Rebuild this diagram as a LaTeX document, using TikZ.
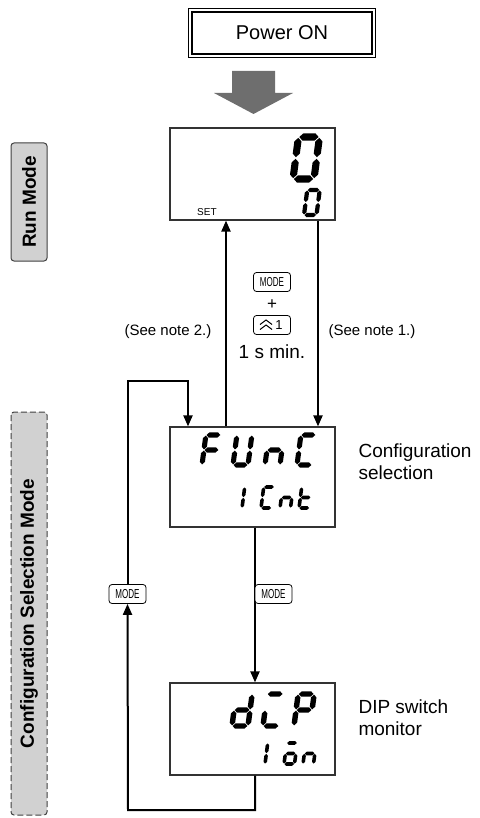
\documentclass[tikz,border=0pt]{standalone}
\usepackage{fontspec}
\setmainfont{Liberation Sans}
\usetikzlibrary{arrows.meta,positioning}

% seven segment cells, drawn in a unit cell 0.5 wide and 1 high
\newcommand{\sgh}{0.085}
\newcommand{\sgg}{0.02}
\newcommand{\hseg}[3]{\fill ({#1+\sgg},#3) -- ({#1+\sgg+\sgh},{#3+\sgh}) -- ({#2-\sgg-\sgh},{#3+\sgh}) -- ({#2-\sgg},#3) -- ({#2-\sgg-\sgh},{#3-\sgh}) -- ({#1+\sgg+\sgh},{#3-\sgh}) -- cycle;}
\newcommand{\vseg}[3]{\fill (#1,{#2+\sgg}) -- ({#1+\sgh},{#2+\sgg+\sgh}) -- ({#1+\sgh},{#3-\sgg-\sgh}) -- (#1,{#3-\sgg}) -- ({#1-\sgh},{#3-\sgg-\sgh}) -- ({#1-\sgh},{#2+\sgg+\sgh}) -- cycle;}
\newcommand{\lcdsega}{\hseg{0}{0.5}{1}}
\newcommand{\lcdsegb}{\vseg{0.5}{0.5}{1}}
\newcommand{\lcdsegc}{\vseg{0.5}{0}{0.5}}
\newcommand{\lcdsegd}{\hseg{0}{0.5}{0}}
\newcommand{\lcdsege}{\vseg{0}{0}{0.5}}
\newcommand{\lcdsegf}{\vseg{0}{0.5}{1}}
\newcommand{\lcdsegg}{\hseg{0}{0.5}{0.5}}
% #1,#2 lower left (px), #3 height, #4 lit segments
\newcommand{\lcdchar}[4]{%
 \begin{scope}[shift={(#1,#2)},xslant=0.13,yscale=-1,scale=#3]
 \foreach \s in {#4} {\csname lcdseg\s\endcsname}
 \end{scope}}
\newcommand{\modekey}{\scalebox{0.62}[1]{MODE}}

\tikzset{
 lcd/.style={draw=black!80, line width=1.2pt, fill=white, minimum width=165pt, inner sep=0pt},
 flow/.style={line width=2pt, -{Triangle[length=11pt,width=9pt]}},
 keybox/.style={draw, rounded corners=3pt, line width=0.8pt, minimum width=37pt, minimum height=19pt, inner sep=0pt, fill=white, font=\fontsize{13}{13}\selectfont},
 modetag/.style={draw=black!75, rounded corners=3pt, line width=1pt, fill=black!18, minimum height=36pt, inner sep=0pt, rotate=90, font=\fontsize{19}{22}\selectfont\bfseries},
 note/.style={font=\fontsize{15}{17}\selectfont},
 lbl/.style={font=\fontsize{19}{22}\selectfont, align=left, anchor=west},
}

\begin{document}
\begin{tikzpicture}[x=1pt,y=-1pt]
\useasboundingbox (0,0) rectangle (479,818);

%%%%% top: power on
\node[draw, line width=1.3pt, minimum width=180pt, minimum height=42pt, font=\fontsize{20}{24}\selectfont] (power) at (282,33) {Power ON};
\draw[line width=0.8pt] ([shift={(-3pt,-3pt)}]power.south west) rectangle ([shift={(3pt,3pt)}]power.north east);
\fill[black!57] (232,71) -- (275,71) -- (275,93) -- (293,93) -- (253.5,114) -- (214,93) -- (232,93) -- cycle;

%%%%% mode tags on the left
\node[modetag, minimum width=118pt] (runtag) at (29,202) {Run Mode};
\node[modetag, dash pattern=on 6pt off 3pt, minimum width=403pt] (cfgtag) at (29,613.5) {Configuration Selection Mode};

%%%%% displays
\node[lcd, minimum height=92pt] (run) at (252.5,174) {};
\node[lcd, minimum height=100pt] (cfg) at (252.5,477) {};
\node[lcd, minimum height=92pt] (dip) at (252.5,729) {};

\node[font=\fontsize{10}{10}\selectfont, anchor=south west, inner sep=0pt] (set) at (197,216) {SET};
\lcdchar{293}{179}{42}{a,b,c,d,e,f}
\lcdchar{304}{215}{25}{a,b,c,d,e,f}

\lcdchar{202}{465}{30}{a,e,f,g}
\lcdchar{233}{465}{30}{b,c,d,e,f}
\lcdchar{265}{465}{30}{c,e,g}
\lcdchar{297}{465}{30}{a,d,e,f}
\lcdchar{242}{508}{21}{e,f}
\lcdchar{261}{508}{21}{a,d,e,f}
\lcdchar{280}{508}{21}{c,e,g}
\lcdchar{299}{508}{21}{d,e,f,g}

\lcdchar{232}{726}{32}{b,c,d,e,g}
\lcdchar{263}{726}{32}{a,d,e}
\lcdchar{294}{726}{32}{a,b,e,f,g}
\lcdchar{265}{764}{21}{e,f}
\lcdchar{284}{764}{21}{a,c,d,e,g}
\lcdchar{303}{764}{21}{c,e,g}

\node[lbl] (cfglbl) at (355,462) {Configuration\\selection};
\node[lbl] (diplbl) at (355,718) {DIP switch\\monitor};

%%%%% run <-> configuration
\draw[flow] ([xshift=-26.5pt]cfg.north) -- ([xshift=-26.5pt]run.south);
\draw[flow] ([xshift=65.5pt]run.south) -- ([xshift=65.5pt]cfg.north);
\node[keybox] (modea) at (272,282) {\modekey};
\node[font=\fontsize{17}{17}\selectfont] (plus) at (272,305) {+};
\node[keybox] (upkey) at (272,325) {\hspace{14pt}1};
\draw[line width=1pt] ([xshift=-12pt,yshift=0.5pt]upkey.center) -- ([xshift=-6pt,yshift=5pt]upkey.center) -- ([xshift=0pt,yshift=0.5pt]upkey.center);
\draw[line width=1pt] ([xshift=-12pt,yshift=-4.5pt]upkey.center) -- ([xshift=-6pt,yshift=0pt]upkey.center) -- ([xshift=0pt,yshift=-4.5pt]upkey.center);
\node[font=\fontsize{19}{22}\selectfont] (minhold) at (272,352) {1 s min.};
\node[note] (note2) at (168,332) {(See note 2.)};
\node[note] (note1) at (372,332) {(See note 1.)};

%%%%% configuration -> dip -> back
\draw[flow] ([xshift=2.5pt]cfg.south) -- ([xshift=2.5pt]dip.north);
\node[keybox] (modeb) at (273.5,594) {\modekey};
\node[keybox] (modec) at (127.5,594) {\modekey};
\coordinate (loopbot) at (128,810);
\coordinate (looptop) at (188,381);
\draw[flow] ([xshift=2.5pt]dip.south) |- (loopbot) -- (modec.south);
\draw[flow] (modec.north) |- (looptop) -- (looptop |- cfg.north);
\end{tikzpicture}
\end{document}
